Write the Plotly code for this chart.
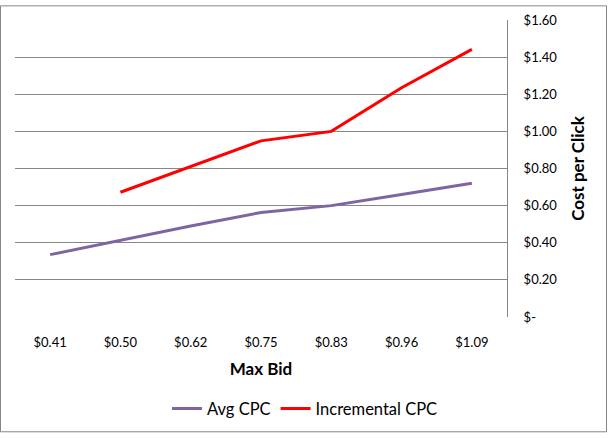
import plotly.graph_objects as go

max_bid = ["$0.41", "$0.50", "$0.62", "$0.75", "$0.83", "$0.96", "$1.09"]
avg_cpc = [0.336, 0.415, 0.49, 0.563, 0.60, 0.66, 0.72]
incr_cpc = [None, 0.672, 0.81, 0.949, 1.00, 1.235, 1.442]
y_ticks = [0, 0.2, 0.4, 0.6, 0.8, 1.0, 1.2, 1.4, 1.6]
y_ticktext = ["$-", "$0.20", "$0.40", "$0.60", "$0.80", "$1.00", "$1.20", "$1.40", "$1.60"]

FONT = "Lato"
L, R, T, B = 15, 101, 15, 119
W, H = 608, 438
pw = W - L - R
ph = H - T - B

fig = go.Figure()
fig.add_trace(go.Scatter(x=max_bid, y=avg_cpc, mode="lines", name="Avg CPC",
                         line=dict(color="#8064A2", width=3)))
fig.add_trace(go.Scatter(x=max_bid, y=incr_cpc, mode="lines", name="Incremental CPC",
                         line=dict(color="#FF0000", width=3)))

fig.update_layout(
    width=W, height=H,
    margin=dict(l=L, r=R, t=T, b=B),
    paper_bgcolor="white", plot_bgcolor="white",
    font=dict(family=FONT, color="#000000"),
    showlegend=True,
    legend=dict(orientation="h", x=(305 - L) / pw, y=(T + ph - 413) / ph,
                xanchor="center", yanchor="middle", font=dict(size=16.5, family=FONT),
                bgcolor="rgba(0,0,0,0)", tracegroupgap=0),
    xaxis=dict(type="category", range=[-0.5, 6.5],
               showgrid=False, showline=False, zeroline=False,
               ticks="outside", ticklen=13, tickcolor="rgba(0,0,0,0)",
               tickfont=dict(size=13, family=FONT, color="#000000"),
               title=dict(text="<b>Max Bid</b>", font=dict(size=17, family=FONT),
                          standoff=14)),
    yaxis=dict(side="right", range=[0, 1.6], tickvals=y_ticks, ticktext=y_ticktext,
               showgrid=True, gridcolor="#868686", gridwidth=1,
               showline=True, linecolor="#868686", linewidth=1, mirror=False,
               zeroline=False, ticks="outside", ticklen=13, tickcolor="rgba(0,0,0,0)",
               tickfont=dict(size=13, family=FONT, color="#000000"),
               title=dict(text="<b>Cost per Click</b>", font=dict(size=17, family=FONT),
                          standoff=15)),
)

# outer chart border
fig.add_shape(type="rect", xref="paper", yref="paper",
              x0=(0.5 - L) / pw, x1=(606.5 - L) / pw,
              y0=(T + ph - 436.5) / ph, y1=(T + ph - 0.5) / ph,
              line=dict(color="#868686", width=1), fillcolor="rgba(0,0,0,0)", layer="below")

fig.write_html("out.html")
